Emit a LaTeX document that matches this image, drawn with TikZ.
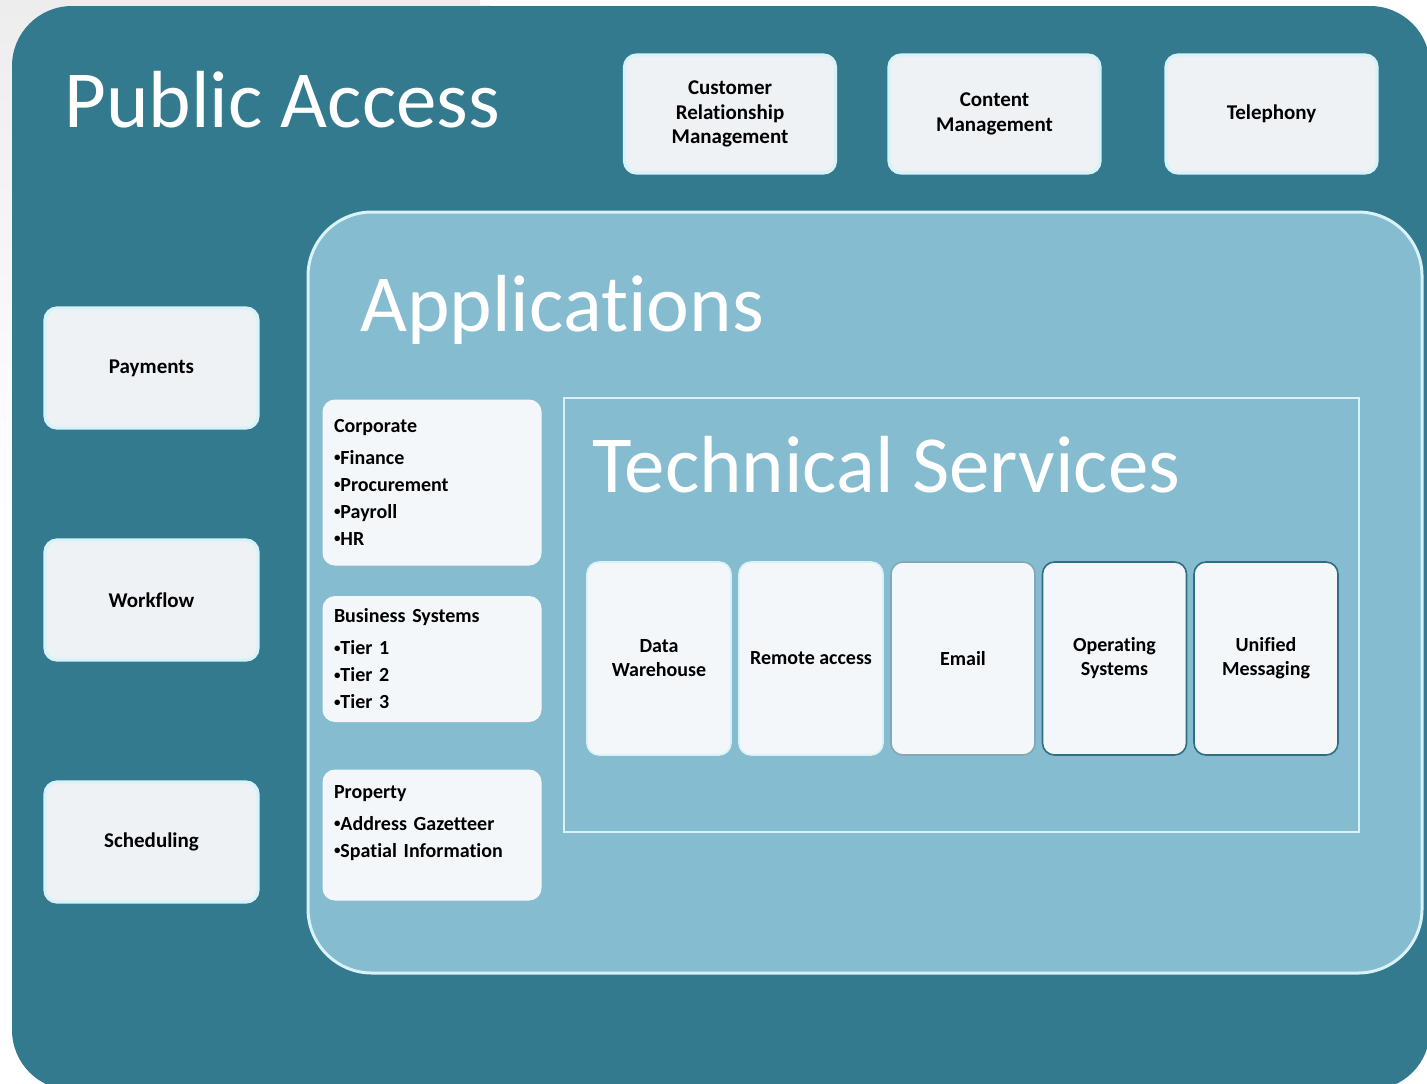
\documentclass[tikz,border=0pt]{standalone}
\usepackage{fontspec}
\setmainfont[Ligatures=NoCommon]{Carlito}
\usetikzlibrary{fadings}

\definecolor{outerteal}{HTML}{347A8F}
\definecolor{appblue}{HTML}{86BCCF}
\definecolor{boxfill}{HTML}{EEF2F5}
\definecolor{innerfill}{HTML}{F3F7FA}
\definecolor{glow}{HTML}{D8F2FA}
\definecolor{edgeteal}{HTML}{2E6E84}
\newcommand\bul{\raisebox{0.3ex}{\fontsize{6.5}{6.5}\selectfont•}}

\begin{document}
\begin{tikzpicture}[x=0.5pt,y=-0.5pt,
        title/.style={anchor=base west, inner sep=0, text=white, font=\fontsize{40.5}{48}\selectfont},
        block/.style={rectangle, rounded corners=6pt, draw=glow, line width=1.6pt, fill=boxfill,
                      align=center, font=\bfseries\fontsize{10.5}{12.3}\selectfont, text=black}]
    \useasboundingbox (0,0) rectangle (1427,1083);
    % shadow and layers
    \fill[gray!14, path fading=south] (0,0) rectangle (490,520);
    \fill[white] (480,0) rectangle (1427,5);
    \fill[outerteal, rounded corners=30pt] (12,6) rectangle (1430,1090);
    \filldraw[fill=appblue, draw=glow, line width=1.5pt, rounded corners=32pt] (308,212) rectangle (1422,973);
    \draw[glow, line width=1.2pt] (564,398) rectangle (1359,832);

    \node (pa) [title] at (64,127) {Public Access};
    \node (app) [title] at (360,331) {Applications};
    \node (ts) [title] at (592,492) {Technical Services};

    \begin{scope}[every node/.style={block, minimum width=105.5pt, minimum height=59pt}]
        \node (crm) at (730,114) {Customer\\Relationship\\Management};
        \node (cm) at (994.5,114) {Content\\Management};
        \node (tel) at (1271.5,114) {Telephony};
    \end{scope}
    \begin{scope}[every node/.style={block, minimum width=106.5pt, minimum height=60pt}]
        \node (pay) at (151.5,368) {Payments};
        \node (wf) at (151.5,600) {Workflow};
        \node (sch) at (151.5,842) {Scheduling};
    \end{scope}
    \begin{scope}[every node/.style={block, fill=innerfill, draw=innerfill, line width=0.5pt,
                  minimum width=109pt, text width=98pt, align=left, inner xsep=5.5pt,
                  font=\bfseries\fontsize{10}{13.5}\selectfont}]
        \node (corp) [minimum height=82.5pt] at (432,482.5)
            {Corporate\\[2.5pt]\bul Finance\\\bul Procurement\\\bul Payroll\\\bul HR};
        \node (bus) [minimum height=62.5pt] at (432,659)
            {Business Systems\\[2.5pt]\bul Tier 1\\\bul Tier 2\\\bul Tier 3};
        \node (prop) [minimum height=65pt] at (432,835)
            {Property\\[2.5pt]\bul Address Gazetteer\\\bul Spatial Information\rule[-14pt]{0pt}{14pt}};
    \end{scope}
    \begin{scope}[every node/.style={block, fill=innerfill, line width=0.8pt,
                  minimum width=72pt, minimum height=96.5pt, font=\bfseries\fontsize{10}{12}\selectfont}]
        \node (dw) [draw=glow] at (659,658.5) {Data\\Warehouse};
        \node (ra) [draw=glow] at (811,658.5) {Remote access};
        \node (em) [draw=edgeteal!60] at (963,658.5) {Email};
        \node (os) [draw=edgeteal] at (1114.5,658.5) {Operating\\Systems};
        \node (um) [draw=edgeteal] at (1266,658.5) {Unified\\Messaging};
    \end{scope}
\end{tikzpicture}
\end{document}
